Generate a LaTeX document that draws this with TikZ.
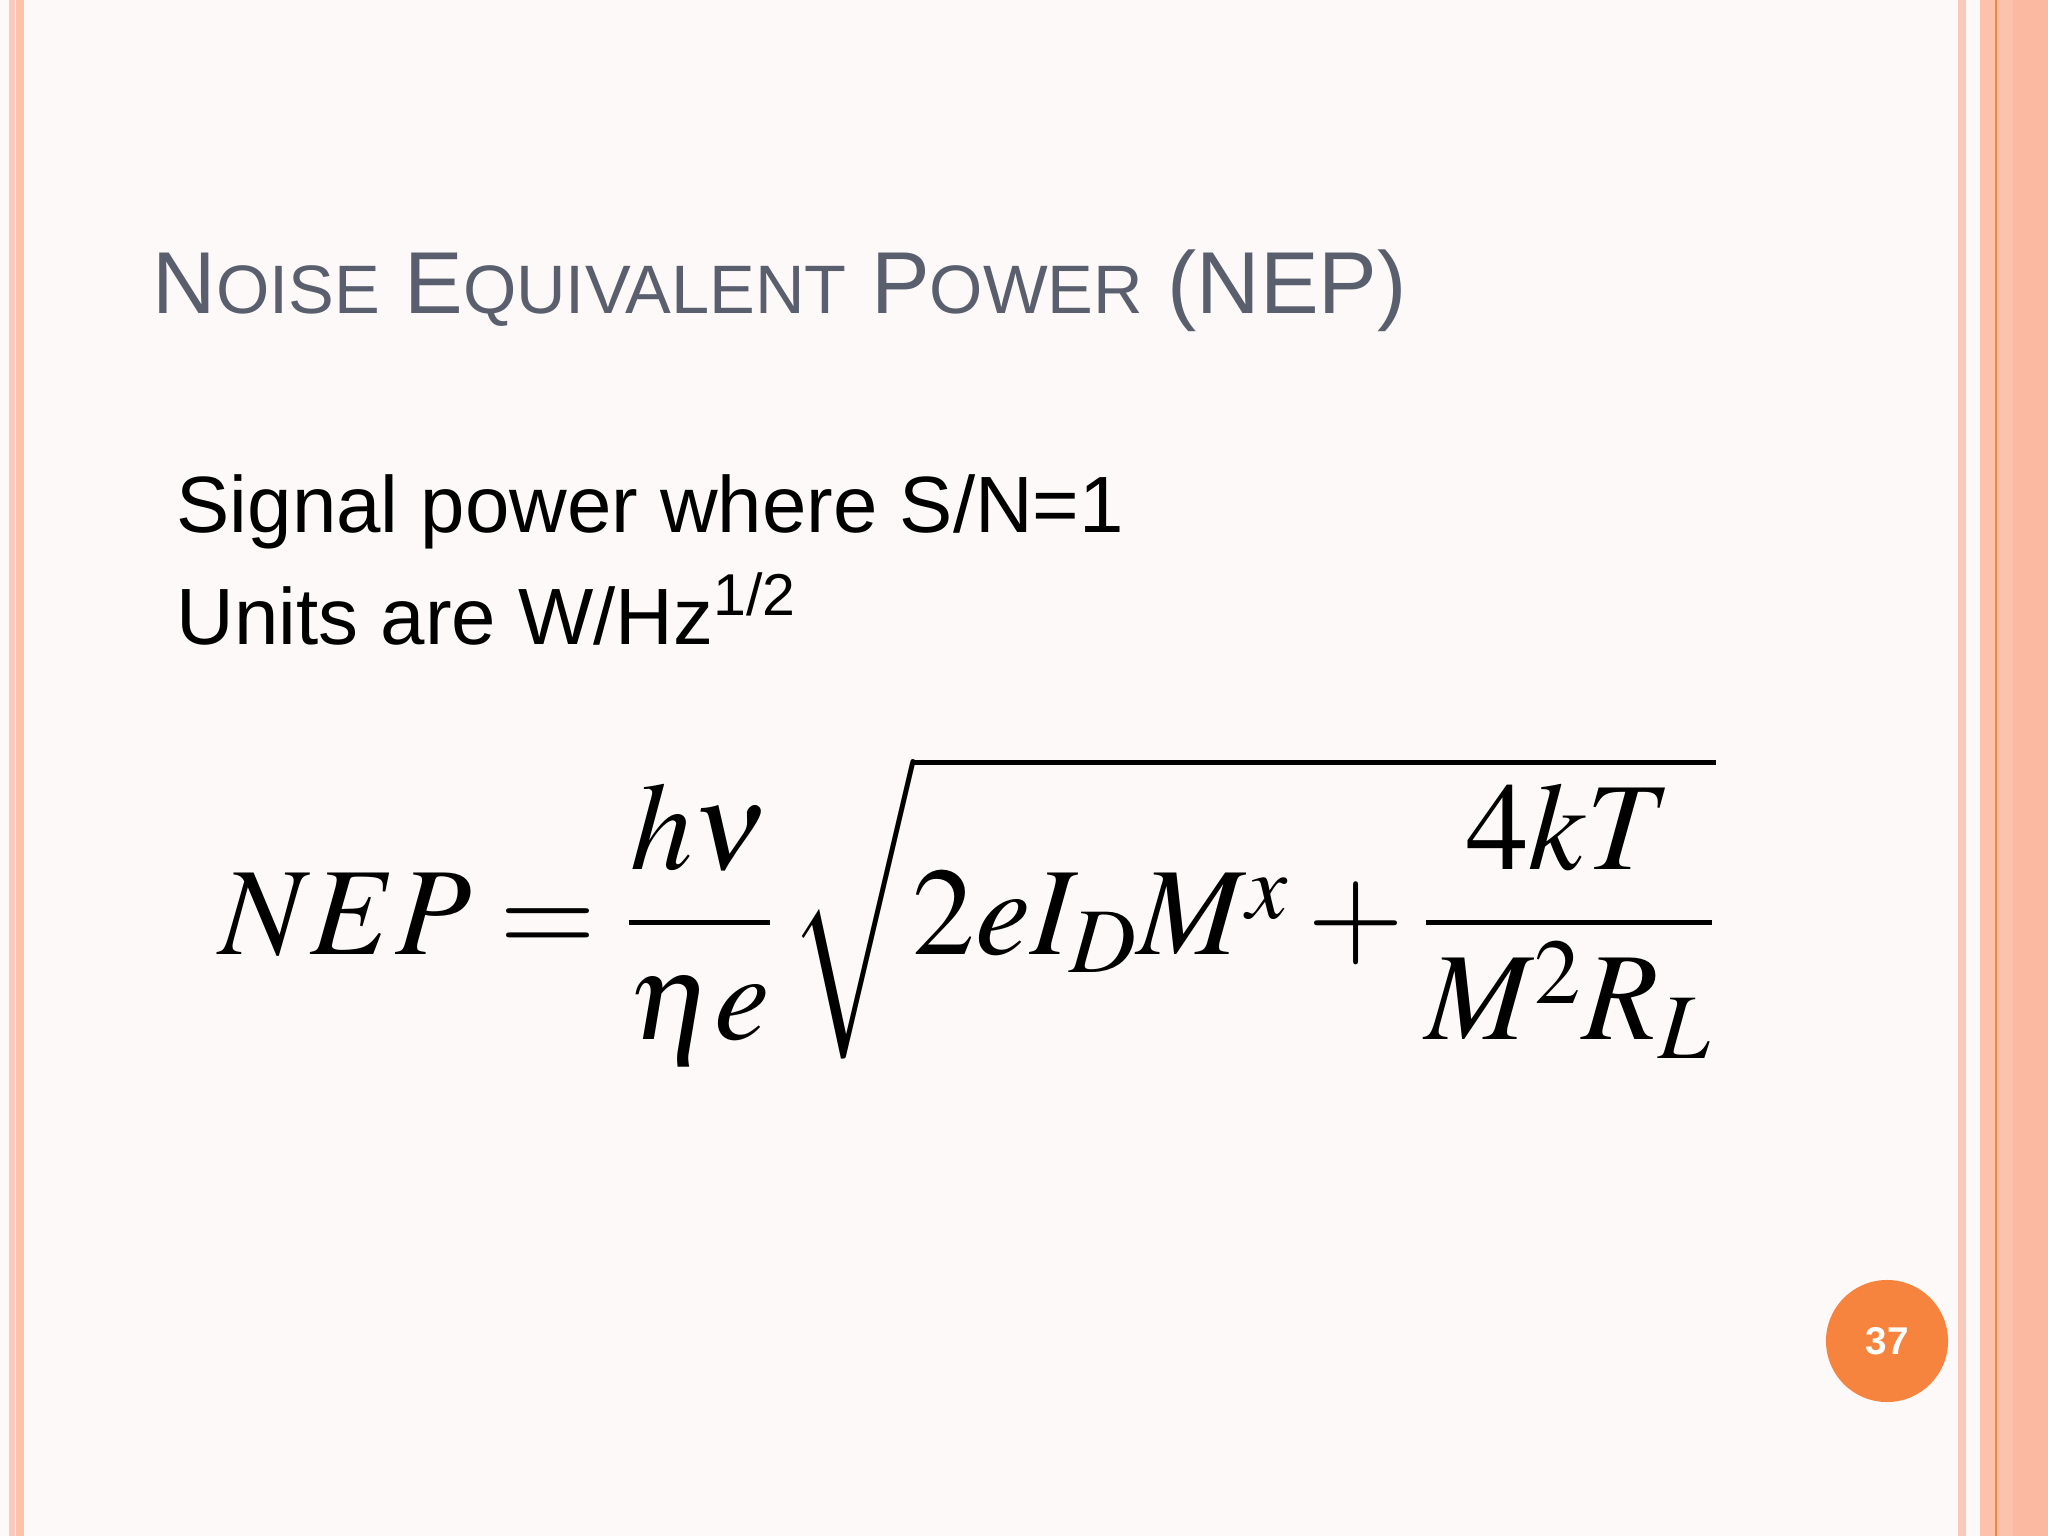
\documentclass[tikz,border=0pt]{standalone}
\usepackage{mathptmx}
\usepackage{fontspec}
\setmainfont{Liberation Sans}
\definecolor{bg}{HTML}{FDF9F8}
\definecolor{pinkA}{HTML}{F9C9BC}
\definecolor{salm}{HTML}{FDC2AB}
\definecolor{salmB}{HTML}{FBB9A1}
\definecolor{orng}{HTML}{F7843E}
\definecolor{titlec}{HTML}{5A5F6E}
\begin{document}
\begin{tikzpicture}[x=0.01cm,y=-0.01cm]
\useasboundingbox (0,0) rectangle (2048,1536);
\fill[bg] (0,0) rectangle (2048,1536);
% left stripes
\fill[pinkA] (9,0) rectangle (15,1536);
\fill[salm] (16,0) rectangle (24,1536);
% right stripes
\fill[pinkA] (1958,0) rectangle (1966,1536);
\fill[salm] (1980,0) rectangle (2048,1536);
\fill[orng] (1995,0) rectangle (1997,1536);
\fill[salmB] (2013,0) rectangle (2048,1536);
% title
\node[anchor=base west, inner sep=0, text=titlec, font=\fontsize{25}{30}\selectfont] (title) at (152,313)
 {N{\fontsize{19.5}{24}\selectfont OISE} E{\fontsize{19.5}{24}\selectfont QUIVALENT} P{\fontsize{19.5}{24}\selectfont OWER} (NEP)};
\node[anchor=base west, inner sep=0, font=\fontsize{22.7}{28}\selectfont] (l1) at (176,532) {Signal power where S/N=1};
\node[anchor=base west, inner sep=0, font=\fontsize{22.7}{28}\selectfont] (l2) at (176,644) {Units are W/Hz\textsuperscript{1/2}};
\node[inner sep=0, font=\fontsize{35.5}{42}\selectfont] (eq) at (968,910)
 {$\displaystyle NEP=\frac{h\nu}{\eta e}\,\sqrt{2eI_{D}M^{x}+\frac{4kT}{M^{2}R_{L}}}$};
\node[circle, fill=orng, minimum size=1.22cm, inner sep=0, text=white, font=\bfseries\fontsize{11}{13}\selectfont] (pg) at (1887,1341) {37};
\end{tikzpicture}
\end{document}
